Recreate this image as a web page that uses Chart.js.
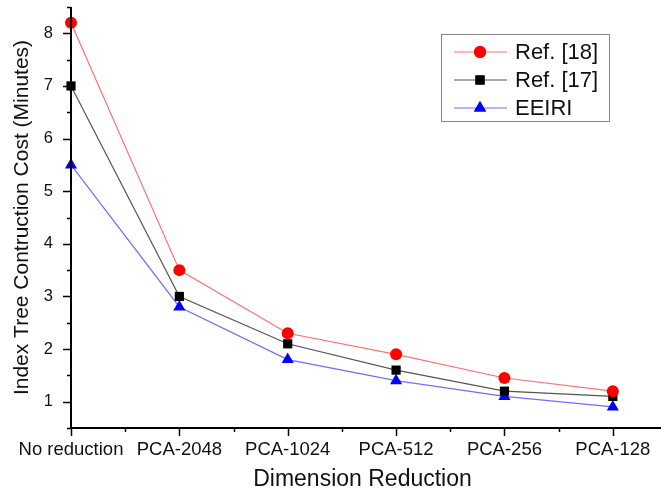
<!DOCTYPE html>
<html>
<head>
<meta charset="utf-8">
<script src="https://cdn.jsdelivr.net/npm/chart.js@4.4.1/dist/chart.umd.min.js"></script>
<style>
  html, body { margin: 0; padding: 0; background: #fff; }
  #wrap { width: 661px; height: 495px; }
</style>
</head>
<body>
<div id="wrap"><canvas id="c" width="661" height="495"></canvas></div>
<script>
const categories = ['No reduction', 'PCA-2048', 'PCA-1024', 'PCA-512', 'PCA-256', 'PCA-128'];
const ref18 = [8.2, 3.5, 2.3, 1.9, 1.45, 1.2];
const ref17 = [7.0, 3.0, 2.1, 1.6, 1.2, 1.1];
const eeiri = [5.5, 2.8, 1.8, 1.4, 1.1, 0.9];
const yTicks = [1, 2, 3, 4, 5, 6, 7, 8];

const FONT = "'Liberation Sans', Arial, sans-serif";

const toPoints = arr => arr.map((v, i) => ({ x: i, y: v }));

// axis lines, major/minor tick marks and the boxed legend
const axesPlugin = {
    id: 'originAxes',
    afterDatasetsDraw(chart) {
        const { ctx, chartArea: a, scales: { x, y } } = chart;
        ctx.save();
        ctx.strokeStyle = '#000';
        ctx.lineWidth = 2;
        ctx.beginPath();
        ctx.moveTo(a.left, a.top);
        ctx.lineTo(a.left, a.bottom);
        ctx.lineTo(chart.width, a.bottom);
        ctx.stroke();

        ctx.lineWidth = 1.5;
        ctx.beginPath();
        for (let v = 0.5; v <= 8.5; v += 0.5) {
            const py = Math.round(y.getPixelForValue(v)) + 0.5;
            const len = Number.isInteger(v) ? 8 : 4;
            ctx.moveTo(a.left, py);
            ctx.lineTo(a.left - len, py);
        }
        for (let v = 0; v <= 5.4; v += 0.5) {
            const px = Math.round(x.getPixelForValue(v)) + 0.5;
            const len = Number.isInteger(v) ? 8 : 4;
            ctx.moveTo(px, a.bottom);
            ctx.lineTo(px, a.bottom + len);
        }
        ctx.stroke();

        // legend
        const bx = 441, by = 34, bw = 168, bh = 87;
        ctx.lineWidth = 1;
        ctx.strokeStyle = '#888';
        ctx.strokeRect(bx + 0.5, by + 0.5, bw, bh);
        ctx.font = '22px ' + FONT;
        ctx.textBaseline = 'middle';
        chart.data.datasets.forEach((ds, i) => {
            const ly = by + 18 + i * 28;
            ctx.strokeStyle = ds.borderColor;
            ctx.lineWidth = 1;
            ctx.beginPath();
            ctx.moveTo(454, ly);
            ctx.lineTo(507, ly);
            ctx.stroke();
            Chart.helpers.drawPoint(ctx, {
                pointStyle: ds.pointStyle,
                radius: ds.pointRadius,
                rotation: 0,
                borderWidth: 0
            }, 480, ly);
            ctx.fillStyle = ds.pointBackgroundColor;
            ctx.fill();
            ctx.fillStyle = '#111';
            ctx.fillText(ds.label, 515, ly + 1);
        });
        ctx.restore();
    }
};

new Chart(document.getElementById('c'), {
    type: 'line',
    data: {
        datasets: [{
            label: 'Ref. [18]',
            data: toPoints(ref18),
            borderColor: '#ff7070',
            borderWidth: 1.2,
            pointStyle: 'circle',
            pointRadius: 6,
            pointBackgroundColor: '#ff0000',
            pointBorderColor: '#ff0000',
            pointBorderWidth: 0
        }, {
            label: 'Ref. [17]',
            data: toPoints(ref17),
            borderColor: '#555555',
            borderWidth: 1.2,
            pointStyle: 'rect',
            pointRadius: 6.5,
            pointBackgroundColor: '#000000',
            pointBorderColor: '#000000',
            pointBorderWidth: 0
        }, {
            label: 'EEIRI',
            data: toPoints(eeiri),
            borderColor: '#6f6fff',
            borderWidth: 1.2,
            pointStyle: 'triangle',
            pointRadius: 7,
            pointBackgroundColor: '#0000ff',
            pointBorderColor: '#0000ff',
            pointBorderWidth: 0
        }]
    },
    options: {
        responsive: false,
        animation: false,
        clip: false,
        layout: { padding: { top: 5, right: 0, left: 0, bottom: 0 } },
        plugins: { legend: { display: false }, tooltip: { enabled: false } },
        scales: {
            x: {
                type: 'linear',
                min: 0,
                max: 5.38,
                grid: { display: false },
                border: { display: false },
                afterBuildTicks: s => { s.ticks = categories.map((c, i) => ({ value: i })); },
                afterFit: s => { s.height = 67; s.paddingLeft = 0; s.paddingRight = 0; },
                ticks: {
                    autoSkip: false,
                    maxRotation: 0,
                    padding: 3,
                    color: '#111',
                    font: { family: FONT, size: 18.5 },
                    callback: v => categories[v]
                },
                title: {
                    display: true,
                    text: 'Dimension Reduction',
                    color: '#111',
                    font: { family: FONT, size: 23 },
                    padding: { top: 0, bottom: 2 }
                }
            },
            y: {
                min: 0.5,
                max: 8.5,
                grid: { display: false },
                border: { display: false },
                afterBuildTicks: s => { s.ticks = yTicks.map(v => ({ value: v })); },
                afterFit: s => { s.width = 71; s.paddingTop = 0; s.paddingBottom = 0; },
                ticks: {
                    padding: 10,
                    color: '#111',
                    font: { family: FONT, size: 16.5 }
                },
                title: {
                    display: true,
                    text: 'Index Tree Contruction Cost (Minutes)',
                    color: '#111',
                    font: { family: FONT, size: 21 },
                    padding: { top: 10, bottom: 0 }
                }
            }
        }
    },
    plugins: [axesPlugin]
});
</script>
</body>
</html>
